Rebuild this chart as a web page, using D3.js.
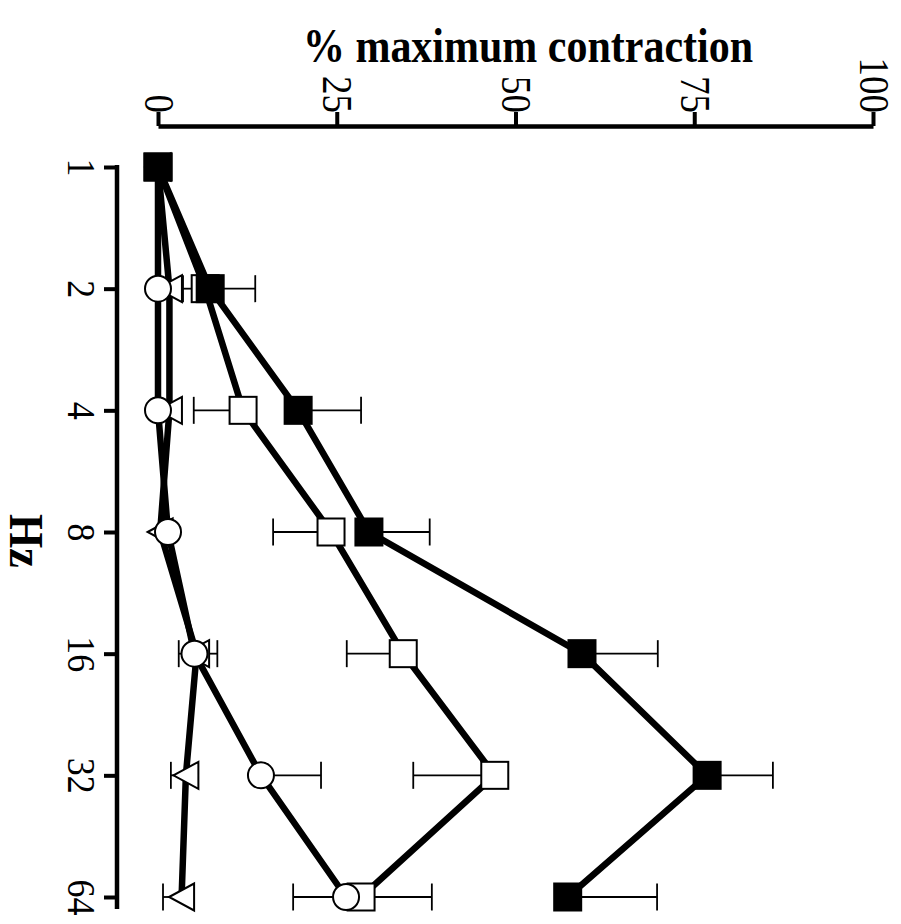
<!DOCTYPE html>
<html>
<head>
<meta charset="utf-8">
<script src="https://cdn.jsdelivr.net/npm/d3@7"></script>
<style>
  html, body { margin: 0; padding: 0; background: #fff; }
  svg { display: block; }
  text { font-family: "Liberation Serif", "Times New Roman", serif; fill: #000; }
</style>
</head>
<body>
<svg id="chart" width="901" height="924"></svg>
<script>
// Stimulation frequency (Hz) and response as % of maximum contraction
const frequencies = [1, 2, 4, 8, 16, 32, 64];
const valueTicks = [0, 25, 50, 75, 100];

const filledSquares    = [0, 7.3, 19.6, 29.5, 59.3, 76.8, 57.3];
const filledSquaresErr = [0, 6.3, 8.8, 8.5, 10.6, 9.2, 12.5];
const openSquares      = [0, 6.6, 11.9, 24.2, 34.3, 47.1, 28.4];
const openSquaresErr   = [0, 3.1, 6.9, 8.1, 7.9, 11.4, 9.5];
const openCircles      = [0, 0, 0, 1.4, 5.1, 14.4, 26.3];
const openCirclesErr   = [0, 0, 0, 0, 3.2, 8.4, 12.0];
const openTriangles    = [0, 1.6, 1.6, 0.3, 5.4, 3.9, 3.3];
const openTrianglesErr = [0, 0, 0, 0, 2.5, 2.1, 2.6];

const titleText = "% maximum contraction";
const freqTitle = "Hz";

const svg = d3.select("#chart");

// The figure is laid out sideways: response runs left→right, frequency top→bottom.
const x = d3.scaleLinear().domain([0, 100]).range([158, 873]);
const y = d3.scaleLog().base(2).domain([1, 64]).range([167, 897]);

const axisY = 126;   // position of the response axis line
const axisX = 117;   // position of the frequency axis line
const serif = '"Liberation Serif", "Times New Roman", serif';

// Response axis (top)
const gx = svg.append("g").attr("transform", `translate(0,${axisY})`)
  .call(d3.axisTop(x).tickValues(valueTicks).tickSize(14).tickSizeOuter(0));
gx.select(".domain").attr("stroke", "#000").attr("stroke-width", 4.5);
gx.selectAll(".tick line").attr("stroke", "#000").attr("stroke-width", 4);
gx.selectAll(".tick text")
  .attr("x", 0).attr("y", 0).attr("dy", null)
  .attr("transform", "translate(-14,-13) rotate(90) scale(1,1.12)")
  .attr("text-anchor", "end")
  .style("font-size", "37px")
  .style("font-family", serif);

// Frequency axis (left)
const gy = svg.append("g").attr("transform", `translate(${axisX},0)`)
  .call(d3.axisLeft(y).tickValues(frequencies).tickFormat(d3.format("d")).tickSize(13).tickSizeOuter(0));
gy.select(".domain").remove();
gy.append("line")
  .attr("x1", 0).attr("x2", 0)
  .attr("y1", y(1) - 2).attr("y2", y(64) + 12)
  .attr("stroke", "#000").attr("stroke-width", 4.5);
gy.selectAll(".tick line").attr("stroke", "#000").attr("stroke-width", 4);
gy.selectAll(".tick text")
  .attr("x", 0).attr("y", 0).attr("dy", null)
  .attr("transform", "translate(-49,0) rotate(90) scale(1,1.12)")
  .attr("text-anchor", "middle")
  .style("font-size", "36px")
  .style("font-family", serif);

// Titles
svg.append("text")
  .attr("transform", "translate(528,62) scale(1,1.15)")
  .attr("text-anchor", "middle")
  .style("font-size", "42px").style("font-weight", "bold")
  .text(titleText);

svg.append("text")
  .attr("transform", `translate(10,${(y(8) + y(16)) / 2 - 52}) rotate(90) scale(1,1.1)`)
  .attr("text-anchor", "middle")
  .style("font-size", "44px").style("font-weight", "bold")
  .text(freqTitle);

// Series definitions
const series = [
  { key: "triangle", values: openTriangles, err: openTrianglesErr, dir: -1, fill: "#fff" },
  { key: "openSquare", values: openSquares, err: openSquaresErr, dir: -1, fill: "#fff" },
  { key: "circle", values: openCircles, err: openCirclesErr, dir: 1, fill: "#fff" },
  { key: "filledSquare", values: filledSquares, err: filledSquaresErr, dir: 1, fill: "#000" }
];

const line = d3.line()
  .x(d => x(d.v))
  .y(d => y(d.f));

const pts = s => frequencies.map((f, i) => ({ f, v: s.values[i], e: s.err[i] }));

// Connecting lines
const gLines = svg.append("g");
series.forEach(s => {
  gLines.append("path")
    .attr("d", line(pts(s)))
    .attr("fill", "none")
    .attr("stroke", "#000")
    .attr("stroke-width", 6.5)
    .attr("stroke-linejoin", "miter");
});

// One-sided error bars
const capHalf = 13.5;
const gErr = svg.append("g").attr("stroke", "#000").attr("stroke-width", 1.8);
series.forEach(s => {
  pts(s).filter(d => d.e > 0).forEach(d => {
    const x0 = x(d.v), x1 = x(d.v + s.dir * d.e), yy = y(d.f);
    gErr.append("line").attr("x1", x0).attr("x2", x1).attr("y1", yy).attr("y2", yy);
    gErr.append("line").attr("x1", x1).attr("x2", x1).attr("y1", yy - capHalf).attr("y2", yy + capHalf);
  });
});

// Markers
const gMarks = svg.append("g");
const sq = 27, r = 13, tw = 25, th = 27;
series.forEach(s => {
  const g = gMarks.append("g");
  const data = pts(s);
  if (s.key === "circle") {
    g.selectAll("circle").data(data).join("circle")
      .attr("cx", d => x(d.v)).attr("cy", d => y(d.f)).attr("r", r)
      .attr("fill", s.fill).attr("stroke", "#000").attr("stroke-width", 2);
  } else if (s.key === "triangle") {
    g.selectAll("path").data(data).join("path")
      .attr("d", d => {
        const cx = x(d.v), cy = y(d.f);
        return `M${cx - tw / 2},${cy} L${cx + tw / 2},${cy - th / 2} L${cx + tw / 2},${cy + th / 2} Z`;
      })
      .attr("fill", s.fill).attr("stroke", "#000").attr("stroke-width", 2);
  } else {
    g.selectAll("rect").data(data).join("rect")
      .attr("x", d => x(d.v) - sq / 2).attr("y", d => y(d.f) - sq / 2)
      .attr("width", sq).attr("height", sq)
      .attr("fill", s.fill).attr("stroke", "#000").attr("stroke-width", 2);
  }
});
</script>
</body>
</html>
